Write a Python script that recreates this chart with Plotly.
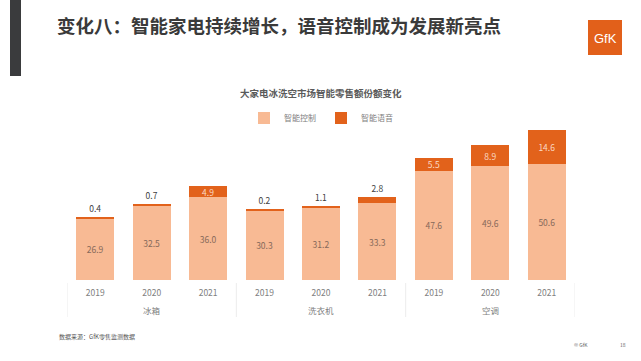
import plotly.graph_objects as go

# ---- data ----
categories = ["冰箱", "冰箱", "冰箱", "洗衣机", "洗衣机", "洗衣机", "空调", "空调", "空调"]
years = ["2019", "2020", "2021", "2019", "2020", "2021", "2019", "2020", "2021"]
smart_control = [26.9, 32.5, 36.0, 30.3, 31.2, 33.3, 47.6, 49.6, 50.6]
smart_voice = [0.4, 0.7, 4.9, 0.2, 1.1, 2.8, 5.5, 8.9, 14.6]
series_names = ["智能控制", "智能语音"]

main_title = "变化八：智能家电持续增长，语音控制成为发展新亮点"
chart_title = "大家电冰洗空市场智能零售额份额变化"
source_note = "数据来源：GfK零售监测数据"

FONT = "Noto Sans CJK SC"
LIGHT = "#F8BA94"
DARK = "#E2621B"

W, H = 641, 361
ML, MR, MT, MB = 67, 66, 119, 81
PW = W - ML - MR
PH = H - MT - MB


def px_x(x):
    return (x - ML) / PW


def px_y(y):
    return (H - MB - y) / PH


idx = list(range(len(years)))
voice_pos = ["inside" if v >= 4 else "outside" for v in smart_voice]

# group spans derived from the category list
groups = []
for i, c in enumerate(categories):
    if not groups or groups[-1][0] != c:
        groups.append([c, i, i])
    else:
        groups[-1][2] = i

fig = go.Figure()
fig.add_trace(go.Bar(
    x=idx, y=smart_control, name=series_names[0],
    marker=dict(color=LIGHT, line=dict(width=0)),
    text=[f"{v:.1f}" for v in smart_control],
    textposition="inside", insidetextanchor="middle", constraintext="none",
    textfont=dict(family=FONT, size=8.5, color="#86695a"),
    hoverinfo="skip",
))
fig.add_trace(go.Bar(
    x=idx, y=smart_voice, name=series_names[1],
    marker=dict(color=DARK, line=dict(width=0)),
    text=[f"{v:.1f}" for v in smart_voice],
    textposition=voice_pos, insidetextanchor="middle", constraintext="none",
    insidetextfont=dict(family=FONT, size=8.5, color="#FBD9C4"),
    outsidetextfont=dict(family=FONT, size=8.5, color="#404040"),
    cliponaxis=False,
    hoverinfo="skip",
))

shapes = [
    dict(type="rect", xref="paper", yref="paper", x0=px_x(10), x1=px_x(21),
         y0=px_y(76), y1=px_y(0), fillcolor="#3a3b3d", line=dict(width=0), layer="above"),
    dict(type="rect", xref="paper", yref="paper", x0=px_x(588), x1=px_x(622),
         y0=px_y(55), y1=px_y(20), fillcolor="#E2601A", line=dict(width=0), layer="above"),
]
annotations = [
    dict(text=chart_title, xref="paper", yref="paper", x=0.5, y=px_y(93),
         xanchor="center", yanchor="middle", showarrow=False,
         font=dict(family=FONT, size=9.5, color="#5a5a5a", weight="bold")),
    dict(text="GfK", xref="paper", yref="paper", x=px_x(605), y=px_y(39),
         xanchor="center", yanchor="middle", showarrow=False,
         font=dict(family="Liberation Sans Narrow, Liberation Sans", size=13, color="white")),
    dict(text=source_note, xref="paper", yref="paper", x=px_x(57), y=px_y(336),
         xanchor="left", yanchor="middle", showarrow=False,
         font=dict(family=FONT, size=6, color="#555555")),
    dict(text="© GfK", xref="paper", yref="paper", x=px_x(572), y=px_y(344),
         xanchor="left", yanchor="middle", showarrow=False,
         font=dict(family=FONT, size=5, color="#666666")),
    dict(text="18", xref="paper", yref="paper", x=px_x(618), y=px_y(344),
         xanchor="left", yanchor="middle", showarrow=False,
         font=dict(family=FONT, size=5, color="#666666")),
]

boundaries = [groups[0][1] - 0.5] + [g[2] + 0.5 for g in groups]
for b in boundaries:
    shapes.append(dict(type="line", xref="x", yref="paper", x0=b, x1=b,
                       y0=px_y(283), y1=px_y(317), line=dict(color="#ececec", width=1)))
for name, i0, i1 in groups:
    annotations.append(dict(text=name, xref="x", yref="paper", x=(i0 + i1) / 2, y=px_y(310),
                            xanchor="center", yanchor="middle", showarrow=False,
                            font=dict(family=FONT, size=8.5, color="#808080")))

fig.update_layout(
    width=W, height=H,
    margin=dict(l=ML, r=MR, t=MT, b=MB, pad=0),
    paper_bgcolor="white", plot_bgcolor="white",
    barmode="stack", bargap=0.327,
    font=dict(family=FONT, color="#7f7f7f", size=8),
    showlegend=True,
    legend=dict(orientation="h", x=0.5, xanchor="center", y=px_y(118), yanchor="middle",
                traceorder="normal",
                font=dict(family=FONT, size=8, color="#808080"),
                itemwidth=30, tracegroupgap=0, bgcolor="rgba(0,0,0,0)"),
    title=dict(text=main_title, x=57 / W, xanchor="left", xref="container",
               y=1 - 27 / H, yanchor="middle", yref="container",
               font=dict(family=FONT, size=18.5, color="#3a3a3a", weight="bold")),
    xaxis=dict(range=[-0.5, len(years) - 0.5], tickmode="array", tickvals=idx, ticktext=years,
               showgrid=False, zeroline=False, showline=False, ticks="",
               ticklabelstandoff=6,
               tickfont=dict(family=FONT, size=8.5, color="#808080")),
    yaxis=dict(range=[0, 70], visible=False, showgrid=False, zeroline=False),
    shapes=shapes,
    annotations=annotations,
)

fig.write_html("out.html", config={"displayModeBar": False},
               post_script="document.body.style.margin='0px';")
